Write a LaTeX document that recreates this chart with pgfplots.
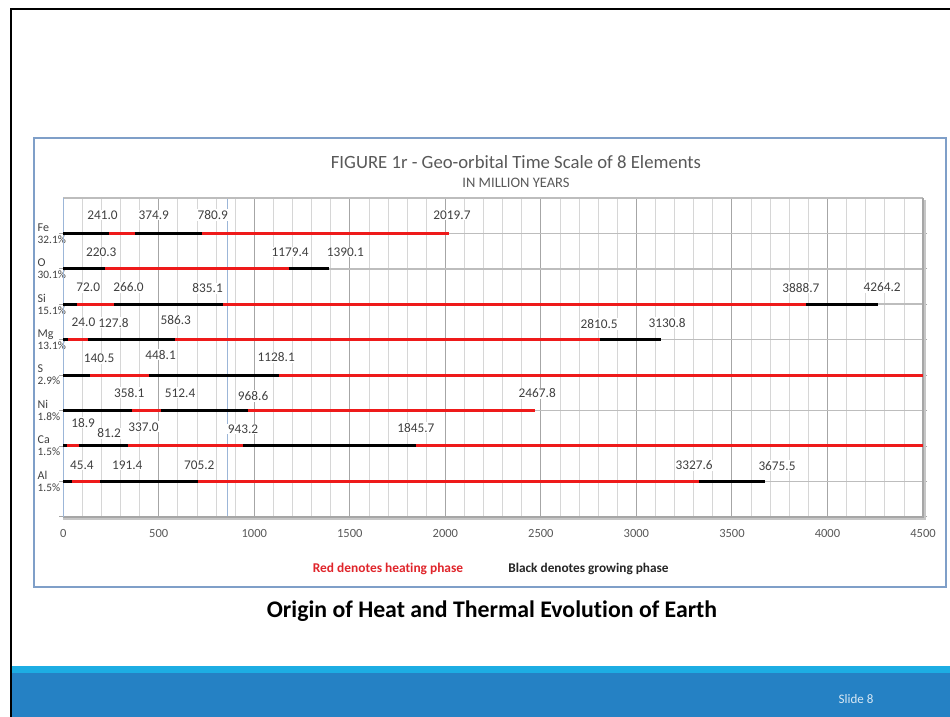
\documentclass[border=0pt]{standalone}
\usepackage{fontspec}
\setmainfont{Carlito}[Ligatures=NoCommon]
\usepackage{pgfplots}
\pgfplotsset{compat=1.18}
\definecolor{bandDark}{HTML}{2581C4}
\definecolor{bandLight}{HTML}{1DADE3}
\definecolor{boxBlue}{HTML}{7F9FC8}
\definecolor{txtGray}{HTML}{595959}
\definecolor{lblGray}{HTML}{404040}
\definecolor{redLine}{HTML}{EE1A1A}
\definecolor{legRed}{HTML}{E0252B}
\definecolor{gridMajor}{HTML}{A6A6A6}
\definecolor{gridMinor}{HTML}{D6D6D6}
\definecolor{gridH}{HTML}{BDBDBD}
\definecolor{axisBlue}{HTML}{9CB6D8}
\newcommand{\yl}[2]{{\fontsize{12}{11}\selectfont #1}\\{\fontsize{11.3}{10.5}\selectfont #2\%}}
\pgfplotsset{
  blk/.style={black, line width=3pt, no markers},
  rd/.style={redLine, line width=3pt, no markers},
}
\begin{document}
\begin{tikzpicture}[x=1pt,y=1pt]
\useasboundingbox (0,0) rectangle (950,717);
\fill[white] (0,0) rectangle (950,717);
% bottom band
\fill[bandDark] (12,0) rectangle (950,43.5);
\fill[bandLight] (12,43.5) rectangle (950,50.5);
% slide frame
\draw[black, line width=2.5pt] (11,0) -- (11,707.8) -- (950,707.8);
\node[text=white!82!bandDark, font=\fontsize{13}{15}\selectfont] at (856,18) {Slide 8};
% chart box
\draw[boxBlue, line width=1.2pt] (34,130) rectangle (946,579);
\node[text=txtGray, font=\fontsize{18.7}{22}\selectfont] at (516,555.3) {FIGURE 1r - Geo-orbital Time Scale of 8 Elements};
\node[text=txtGray, font=\fontsize{14.5}{16}\selectfont] at (516,534.3) {IN MILLION YEARS};
\node[text=legRed, font=\bfseries\fontsize{13.4}{15}\selectfont] at (388,148) {Red denotes heating phase};
\node[text=black!85, font=\bfseries\fontsize{13.3}{15}\selectfont] at (588.5,148) {Black denotes growing phase};
\node[text=black, font=\bfseries\fontsize{23.8}{27}\selectfont] at (492,106) {Origin of Heat and Thermal Evolution of Earth};

\begin{axis}[
  at={(63.2pt,200.2pt)}, anchor=south west,
  scale only axis, width=859.8pt, height=318.9pt,
  xmin=0, xmax=4500, ymin=0, ymax=9,
  enlargelimits=false, clip=false,
  axis line style={draw=none},
  xtick={0,500,...,4500},
  minor x tick num=4,
  xmajorgrids, xminorgrids,
  major grid style={gridMajor, line width=1.1pt},
  minor grid style={gridMinor, line width=0.8pt},
  xtick style={draw=none},
  ytick={0,1,...,8},
  yticklabels={{},{\yl{Al}{1.5}},{\yl{Ca}{1.5}},{\yl{Ni}{1.8}},{\yl{S}{2.9}},{\yl{Mg}{13.1}},{\yl{Si}{15.1}},{\yl{O}{30.1}},{\yl{Fe}{32.1}}},
  yticklabel style={anchor=west, align=left, xshift=-25pt, text=lblGray},
  ytick style={gridMajor, line width=0.8pt},
  tick align=outside, major tick length=4pt,
  extra y ticks={1,...,9},
  extra y tick labels={},
  extra y tick style={ymajorgrids=true, major grid style={gridH, line width=1.5pt}, ytick style={draw=none}},
  extra x ticks={861},
  extra x tick labels={},
  extra x tick style={xmajorgrids=true, xminorgrids=false, major grid style={axisBlue, line width=1pt}},
  xticklabel style={text=txtGray, yshift=-5pt, font=\fontsize{12.5}{13}\selectfont, /pgf/number format/assume math mode=true, /pgf/number format/1000 sep={}},
]
% frame of plot area
\draw[gridH, line width=1.5pt] (axis cs:0,9) -- (axis cs:4500,9);
\draw[gray!45, line width=2pt] (axis cs:0,0) ++(0,-2.2pt) -- ++(862pt,0);
\draw[gray!45, line width=2pt] (axis cs:4500,9) ++(2.2pt,-2pt) -- ++(0,-320pt);
\draw[gridMajor, line width=1.8pt] (axis cs:0,0) -- (axis cs:4500,0) -- (axis cs:4500,9);
\draw[axisBlue, line width=1.2pt] (axis cs:0,0) -- (axis cs:0,9);
% Fe
\addplot[blk] coordinates {(0,8) (241.0,8)};
\addplot[rd]  coordinates {(241.0,8) (374.9,8)};
\addplot[blk] coordinates {(374.9,8) (728,8)};
\addplot[rd]  coordinates {(728,8) (2019.7,8)};
% O
\addplot[blk] coordinates {(0,7) (220.3,7)};
\addplot[rd]  coordinates {(220.3,7) (1179.4,7)};
\addplot[blk] coordinates {(1179.4,7) (1390.1,7)};
% Si
\addplot[blk] coordinates {(0,6) (72.0,6)};
\addplot[rd]  coordinates {(72.0,6) (266.0,6)};
\addplot[blk] coordinates {(266.0,6) (835.1,6)};
\addplot[rd]  coordinates {(835.1,6) (3888.7,6)};
\addplot[blk] coordinates {(3888.7,6) (4264.2,6)};
% Mg
\addplot[blk] coordinates {(0,5) (24.0,5)};
\addplot[rd]  coordinates {(24.0,5) (127.8,5)};
\addplot[blk] coordinates {(127.8,5) (586.3,5)};
\addplot[rd]  coordinates {(586.3,5) (2810.5,5)};
\addplot[blk] coordinates {(2810.5,5) (3130.8,5)};
% S
\addplot[blk] coordinates {(0,4) (140.5,4)};
\addplot[rd]  coordinates {(140.5,4) (448.1,4)};
\addplot[blk] coordinates {(448.1,4) (1128.1,4)};
\addplot[rd]  coordinates {(1128.1,4) (4500,4)};
% Ni
\addplot[blk] coordinates {(0,3) (358.1,3)};
\addplot[rd]  coordinates {(358.1,3) (512.4,3)};
\addplot[blk] coordinates {(512.4,3) (968.6,3)};
\addplot[rd]  coordinates {(968.6,3) (2467.8,3)};
% Ca
\addplot[blk] coordinates {(0,2) (18.9,2)};
\addplot[rd]  coordinates {(18.9,2) (81.2,2)};
\addplot[blk] coordinates {(81.2,2) (337.0,2)};
\addplot[rd]  coordinates {(337.0,2) (943.2,2)};
\addplot[blk] coordinates {(943.2,2) (1845.7,2)};
\addplot[rd]  coordinates {(1845.7,2) (4500,2)};
% Al
\addplot[blk] coordinates {(0,1) (45.4,1)};
\addplot[rd]  coordinates {(45.4,1) (191.4,1)};
\addplot[blk] coordinates {(191.4,1) (705.2,1)};
\addplot[rd]  coordinates {(705.2,1) (3327.6,1)};
\addplot[blk] coordinates {(3327.6,1) (3675.5,1)};
% data labels
\addplot[draw=none, no markers, nodes near coords, point meta=explicit symbolic,
  nodes near coords align={center},
  nodes near coords style={anchor=center, fill=white, inner sep=1pt, text=lblGray, font=\fontsize{13.3}{13}\selectfont}]
  table[meta=l, row sep=\\] {
x y l \\
206 8.52 241.0 \\
474 8.52 374.9 \\
783 8.52 780.9 \\
2035 8.52 2019.7 \\
199 7.47 220.3 \\
1188 7.47 1179.4 \\
1477 7.47 1390.1 \\
131 6.47 72.0 \\
342 6.47 266.0 \\
756 6.45 835.1 \\
3861 6.47 3888.7 \\
4286 6.47 4264.2 \\
106 5.48 24.0 \\
263 5.48 127.8 \\
589 5.55 586.3 \\
2805 5.44 2810.5 \\
3161 5.48 3130.8 \\
188 4.47 140.5 \\
510 4.57 448.1 \\
1115 4.50 1128.1 \\
346 3.50 358.1 \\
612 3.50 512.4 \\
994 3.41 968.6 \\
2481 3.49 2467.8 \\
104 2.65 18.9 \\
240 2.36 81.2 \\
420 2.54 337.0 \\
941 2.48 943.2 \\
1846 2.51 1845.7 \\
98 1.46 45.4 \\
335 1.46 191.4 \\
712 1.46 705.2 \\
3302 1.46 3327.6 \\
3736 1.44 3675.5 \\
};
\end{axis}
\end{tikzpicture}
\end{document}
